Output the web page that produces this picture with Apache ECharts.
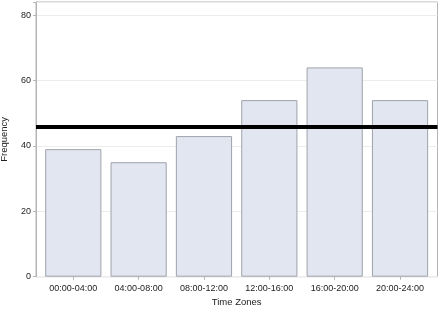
<!DOCTYPE html>
<html>
<head>
<meta charset="utf-8">
<script src="https://cdn.jsdelivr.net/npm/echarts@6/dist/echarts.min.js"></script>
<style>html,body{margin:0;padding:0;background:#fff;}#c{width:442px;height:310px;}</style>
</head>
<body>
<div id="c"></div>
<script>
const categories = ['00:00-04:00','04:00-08:00','08:00-12:00','12:00-16:00','16:00-20:00','20:00-24:00'];
const frequency = [39, 35, 43, 54, 64, 54];
const referenceLine = 46;
const yTicks = [0, 20, 40, 60, 80];

const font = 'Liberation Sans, Arial, sans-serif';
const chart = echarts.init(document.getElementById('c'));
chart.setOption({
  animation: false,
  grid: [
    {left: 36, right: 4.5, top: 2, bottom: 33.3, show: true, borderColor: '#b4b4b4', borderWidth: 1,
     backgroundColor: 'transparent', containLabel: false, outerBoundsMode: 'none'},
    {left: 40.6, right: 9.3, top: 2, bottom: 33.3, containLabel: false, outerBoundsMode: 'none'}
  ],
  xAxis: [
    {type: 'value', gridIndex: 0, min: 0, max: 1, show: false},
    {type: 'category', gridIndex: 1, data: categories,
     axisLine: {show: false},
     axisTick: {show: true, alignWithLabel: true, length: 3, lineStyle: {color: '#b4b4b4'}},
     axisLabel: {interval: 0, fontFamily: font, fontSize: 9, color: '#222', margin: 7},
     name: 'Time Zones', nameLocation: 'middle', nameGap: 21,
     nameTextStyle: {fontFamily: font, fontSize: 9.5, color: '#222'}}
  ],
  yAxis: [
    {type: 'value', gridIndex: 0, min: 0, max: 84, interval: 20,
     axisLine: {show: true, lineStyle: {color: '#b4b4b4'}},
     axisTick: {show: true, length: 3, lineStyle: {color: '#b4b4b4'}},
     axisLabel: {fontFamily: font, fontSize: 9, color: '#222', margin: 5,
       formatter: v => yTicks.includes(v) ? String(v) : ''},
     splitLine: {show: true, lineStyle: {color: '#ececec'}},
     name: 'Frequency', nameLocation: 'middle', nameGap: 27, nameRotate: 90,
     nameTextStyle: {fontFamily: font, fontSize: 9.5, color: '#222'}},
    {type: 'value', gridIndex: 1, min: 0, max: 84, interval: 20, show: false}
  ],
  series: [
    {type: 'bar', xAxisIndex: 1, yAxisIndex: 1, data: frequency, barCategoryGap: '14%',
     itemStyle: {color: '#e2e6f0', borderColor: '#9fa3ab', borderWidth: 1}},
    {type: 'line', xAxisIndex: 0, yAxisIndex: 0, data: [], silent: true,
     markLine: {symbol: 'none', silent: true, label: {show: false},
       lineStyle: {color: '#000', width: 4, type: 'solid'},
       data: [{yAxis: referenceLine}]}}
  ]
});
</script>
</body>
</html>
